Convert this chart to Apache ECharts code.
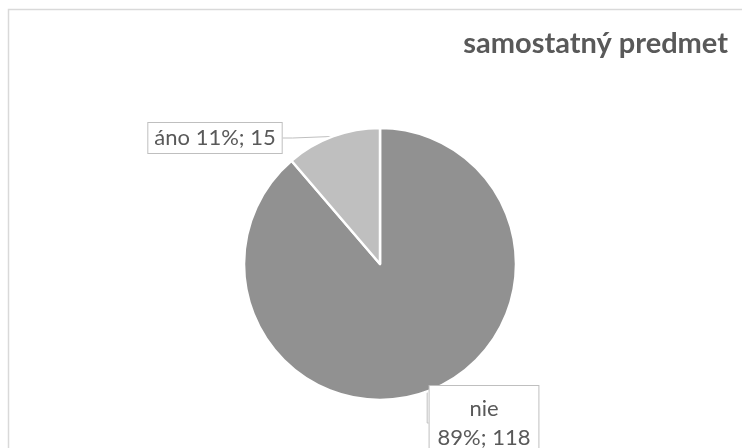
<!DOCTYPE html>
<html>
<head>
<meta charset="utf-8">
<script src="https://cdn.jsdelivr.net/npm/echarts@6/dist/echarts.min.js"></script>
<style>
  html, body { margin: 0; padding: 0; background: #fff; }
  #chart { width: 742px; height: 448px; }
</style>
</head>
<body>
<div id="chart"></div>
<script>
const titleText = 'samostatný predmet';
const categories = ['nie', 'áno'];
const counts = [118, 15];
const percents = [89, 11];
const sliceColors = ['#919191', '#bfbfbf'];

// where each boxed label sits (centre of the box)
const labelSpots = {
  'nie': { x: 484, y: 423 },
  'áno': { x: 215, y: 138 }
};

const chart = echarts.init(document.getElementById('chart'), null, { renderer: 'canvas' });

const data = categories.map((name, i) => ({
  name: name,
  value: counts[i],
  itemStyle: { color: sliceColors[i] },
  label: name === 'nie'
    ? {
        formatter: name + '\n' + percents[i] + '%; ' + counts[i],
        lineHeight: 29,
        padding: [6, 8, 10, 8]
      }
    : {
        formatter: name + ' ' + percents[i] + '%; ' + counts[i],
        lineHeight: 26,
        padding: [2, 6, 2, 6]
      }
}));

chart.setOption({
  animation: false,
  graphic: [{
    type: 'rect',
    shape: { x: 8.5, y: 9.5, width: 745, height: 460 },
    style: { fill: 'none', stroke: '#d9d9d9', lineWidth: 1.5 },
    silent: true
  }],
  title: {
    text: titleText,
    right: 9,
    top: 24,
    textStyle: {
      fontFamily: 'Lato',
      fontWeight: 'bold',
      fontSize: 29,
      color: '#595959'
    }
  },
  series: [{
    type: 'pie',
    center: [380, 264],
    radius: [0, 136],
    startAngle: 90,
    clockwise: true,
    data: data,
    itemStyle: { borderColor: '#ffffff', borderWidth: 2.5 },
    label: {
      show: true,
      position: 'outside',
      fontFamily: 'Lato',
      fontSize: 22,
      color: '#595959',
      backgroundColor: '#ffffff',
      borderColor: '#bfbfbf',
      borderWidth: 1,
      align: 'center'
    },
    labelLine: {
      show: true,
      length: 10,
      length2: 10,
      smooth: false,
      lineStyle: { color: '#bfbfbf', width: 1 }
    },
    labelLayout: function (params) {
      const spot = labelSpots[categories[params.dataIndex]];
      return {
        x: spot.x,
        y: spot.y,
        align: 'center',
        verticalAlign: 'middle'
      };
    }
  }]
});
</script>
</body>
</html>
